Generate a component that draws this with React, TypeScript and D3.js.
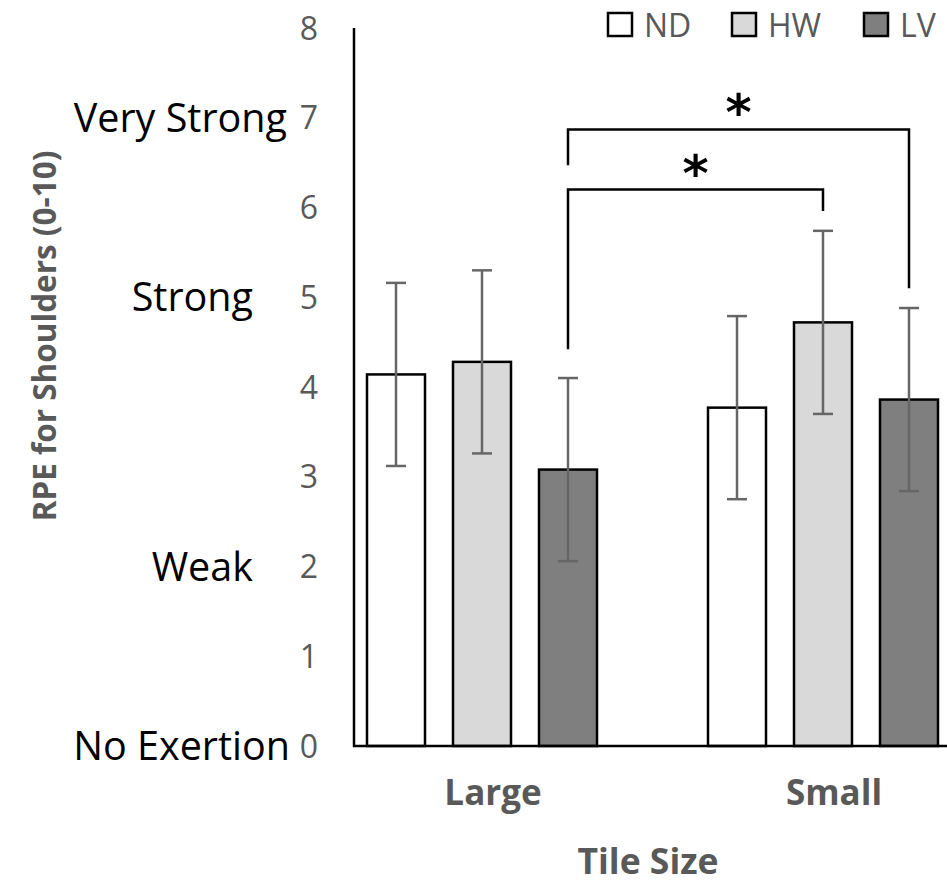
import React from 'react'
import * as d3 from 'd3'

// tile size groups and strategy series
const categories = ['Large', 'Small']
const series = ['ND', 'HW', 'LV']
const seriesFill = ['#ffffff', '#d9d9d9', '#7f7f7f']

// mean RPE and error (SD) per category, in series order
const meanLarge = [4.14, 4.28, 3.08]
const meanSmall = [3.77, 4.72, 3.86]
const errLarge = [1.02, 1.02, 1.02]
const errSmall = [1.02, 1.02, 1.02]

const yTicks = [0, 1, 2, 3, 4, 5, 6, 7, 8]
const descriptorValues = [7, 5, 2, 0]
const descriptorLabels = ['Very Strong', 'Strong', 'Weak', 'No Exertion']

// significant comparisons: [category, series] -> [category, series]
const sigPairs = [
  { from: ['Large', 'LV'], to: ['Small', 'HW'] },
  { from: ['Large', 'LV'], to: ['Small', 'LV'] }
]

const W = 947
const H = 885
const FONT = '"Open Sans", "DejaVu Sans", sans-serif'
const GREY = '#595959'

export default function App () {
  const y = d3.scaleLinear().domain([0, 8]).range([746, 28])
  const x0 = d3.scaleBand().domain(categories).range([311.5, 993.5])
  const x1 = d3.scaleBand().domain(series).range([-115, 115]).paddingInner(0.3256)

  const rows = categories.map((c, ci) => ({
    cat: c,
    means: ci === 0 ? meanLarge : meanSmall,
    errs: ci === 0 ? errLarge : errSmall
  }))

  const axisX = 354
  const barX = (cat, s) => x0(cat) + x0.bandwidth() / 2 + x1(s)
  const barMid = (cat, s) => barX(cat, s) + x1.bandwidth() / 2
  const topOf = (cat, s) => {
    const r = rows[categories.indexOf(cat)]
    const i = series.indexOf(s)
    return r.means[i] + r.errs[i]
  }

  // bracket heights in data units (inner first)
  const bracketTop = [6.2, 6.87]
  const leftLegEnd = [topOf('Large', 'LV') + 0.32, 6.47]
  const descEnd = [287, 253, 253, 290]

  return (
    <svg width={W} height={H} style={{ position: 'absolute', left: 0, top: 0, background: '#fff' }}
      fontFamily={FONT}>
      {/* y tick labels */}
      {yTicks.map(t => (
        <text key={t} x={318} y={y(t)} dy="0.36em" textAnchor="end" fontSize={32} fill={GREY}>{t}</text>
      ))}
      {descriptorValues.map((v, i) => (
        <text key={v} x={descEnd[i]} y={y(v)} dy="0.36em" textAnchor="end" fontSize={39.5} fill="#000">{descriptorLabels[i]}</text>
      ))}

      {/* y axis title */}
      <text transform={`translate(45, 336) rotate(-90)`} textAnchor="middle" dy="0.36em"
        fontSize={31.5} fontWeight="bold" fill={GREY}>RPE for Shoulders (0-10)</text>

      {/* bars */}
      {rows.map(r => (
        <g key={r.cat}>
          {series.map((s, i) => (
            <rect key={s} x={barX(r.cat, s)} y={y(r.means[i])} width={x1.bandwidth()}
              height={y(0) - y(r.means[i])} fill={seriesFill[i]} stroke="#000" strokeWidth={2.5} />
          ))}
          {series.map((s, i) => {
            const cx = barMid(r.cat, s)
            const hi = y(r.means[i] + r.errs[i])
            const lo = y(r.means[i] - r.errs[i])
            return (
              <g key={s} stroke="#666" strokeWidth={2.5}>
                <line x1={cx} x2={cx} y1={hi} y2={lo} />
                <line x1={cx - 10} x2={cx + 10} y1={hi} y2={hi} />
                <line x1={cx - 10} x2={cx + 10} y1={lo} y2={lo} />
              </g>
            )
          })}
        </g>
      ))}

      {/* axes lines */}
      <line x1={axisX} x2={axisX} y1={y(8)} y2={y(0) + 1} stroke="#000" strokeWidth={2.5} />
      <line x1={axisX - 1} x2={W} y1={y(0)} y2={y(0)} stroke="#000" strokeWidth={2.5} />

      {/* category labels */}
      {categories.map(c => (
        <text key={c} x={x0(c) + x0.bandwidth() / 2 + 11} y={805} textAnchor="middle"
          fontSize={35} fontWeight="bold" fill={GREY}>{c}</text>
      ))}
      <text x={648} y={874} textAnchor="middle" fontSize={35.5} fontWeight="bold" fill={GREY}>Tile Size</text>

      {/* significance brackets */}
      {sigPairs.map((p, i) => {
        const xa = barMid(p.from[0], p.from[1])
        const xb = barMid(p.to[0], p.to[1])
        const top = y(bracketTop[i])
        const rightEnd = y(topOf(p.to[0], p.to[1]) + 0.22)
        const mid = (xa + xb) / 2
        return (
          <g key={i}>
            <path d={`M${xa},${y(leftLegEnd[i])}V${top}H${xb}V${rightEnd}`} fill="none"
              stroke="#000" strokeWidth={2.5} />
            <text x={mid} y={top + 1} textAnchor="middle" fontSize={50} fontWeight="bold"
              fontFamily='"DejaVu Sans", sans-serif' fill="#000">*</text>
          </g>
        )
      })}

      {/* legend */}
      {series.map((s, i) => {
        const lx = [608, 732, 864][i]
        return (
          <g key={s}>
            <rect x={lx} y={13} width={24} height={23} fill={seriesFill[i]} stroke="#000" strokeWidth={2.5} />
            <text x={lx + 36} y={25} dy="0.36em" fontSize={32} fill={GREY}>{s}</text>
          </g>
        )
      })}
    </svg>
  )
}
